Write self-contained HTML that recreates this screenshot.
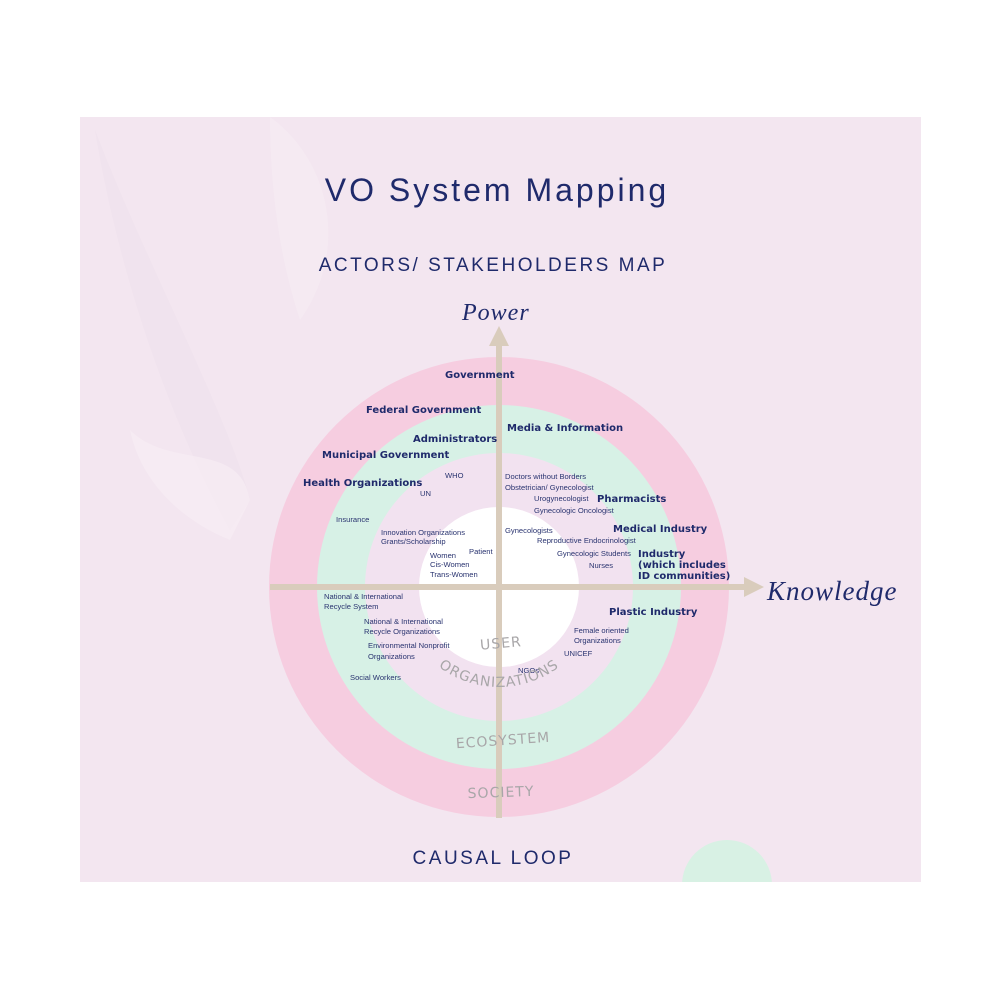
<!DOCTYPE html>
<html><head><meta charset="utf-8"><style>
html,body{margin:0;padding:0;background:#fff;}
svg{display:block}
.b{font-family:"DejaVu Sans","Liberation Sans",sans-serif;font-weight:bold;fill:#1f2a6b;font-size:10px}
.s{font-family:"Liberation Sans",sans-serif;fill:#2a3470;font-size:7.6px}
.r{font-family:"DejaVu Sans","Liberation Sans",sans-serif;fill:#a8a6a8;font-size:14px;letter-spacing:1px}
.t{font-family:"Liberation Sans",sans-serif;fill:#1f2a6b}
.h{font-family:"Liberation Serif",serif;font-style:italic;fill:#1f2a6b}
</style></head><body>
<svg width="1000" height="1000" viewBox="0 0 1000 1000" xmlns="http://www.w3.org/2000/svg">
<rect x="0" y="0" width="1000" height="1000" fill="#fff"/>
<rect x="80" y="117" width="841" height="765" fill="#f3e6f0"/>
<path d="M95 130 C140 250 230 420 250 500 L230 530 C170 420 120 280 95 130Z" fill="#eedfec" opacity="0.5"/>
<path d="M130 430 C170 470 240 440 250 500 L230 540 C180 520 140 480 130 430Z" fill="#f6edf4" opacity="0.7"/>
<path d="M270 117 C330 160 350 250 300 320 C280 260 270 190 270 117Z" fill="#f6edf4" opacity="0.6"/>
<circle cx="727" cy="885" r="45" fill="#d8f1e4"/>
<rect x="680" y="882" width="100" height="60" fill="#fff"/>
<text x="497" y="201" class="t" font-size="32" text-anchor="middle" letter-spacing="3">VO System Mapping</text>
<text x="493" y="271" class="t" font-size="19" text-anchor="middle" letter-spacing="2.5">ACTORS/ STAKEHOLDERS MAP</text>
<text x="493" y="864" class="t" font-size="19" text-anchor="middle" letter-spacing="2.5">CAUSAL LOOP</text>
<text x="462" y="320" class="h" font-size="24" font-weight="normal" letter-spacing="1">Power</text>
<text x="767" y="600" class="h" font-size="27" letter-spacing="1">Knowledge</text>
<circle cx="499" cy="587" r="230" fill="#f6cde0"/>
<circle cx="499" cy="587" r="182" fill="#d7f1e6"/>
<circle cx="499" cy="587" r="134" fill="#f2e2f0"/>
<circle cx="499" cy="587" r="80" fill="#fff"/>
<g fill="#d9ccbc" stroke="none">
<rect x="496" y="340" width="6" height="478"/>
<polygon points="499,326 489,346 509,346"/>
<rect x="270" y="584" width="480" height="6"/>
<polygon points="764,587 744,577 744,597"/>
</g>
<text x="445" y="378" class="b">Government</text>
<text x="366" y="413" class="b">Federal Government</text>
<text x="507" y="431" class="b">Media &amp; Information</text>
<text x="413" y="442" class="b">Administrators</text>
<text x="322" y="458" class="b">Municipal Government</text>
<text x="303" y="486" class="b">Health Organizations</text>
<text x="597" y="502" class="b">Pharmacists</text>
<text x="613" y="532" class="b">Medical Industry</text>
<text x="638" y="557" class="b">Industry</text>
<text x="638" y="568" class="b">(which includes</text>
<text x="638" y="579" class="b">ID communities)</text>
<text x="609" y="615" class="b">Plastic Industry</text>
<text x="445" y="478" class="s">WHO</text>
<text x="420" y="496" class="s">UN</text>
<text x="336" y="522" class="s">Insurance</text>
<text x="381" y="535" class="s">Innovation Organizations</text>
<text x="381" y="544" class="s">Grants/Scholarship</text>
<text x="469" y="554" class="s">Patient</text>
<text x="430" y="558" class="s">Women</text>
<text x="430" y="567" class="s">Cis-Women</text>
<text x="430" y="577" class="s">Trans-Women</text>
<text x="505" y="479" class="s">Doctors without Borders</text>
<text x="505" y="490" class="s">Obstetrician/ Gynecologist</text>
<text x="534" y="501" class="s">Urogynecologist</text>
<text x="534" y="513" class="s">Gynecologic Oncologist</text>
<text x="505" y="533" class="s">Gynecologists</text>
<text x="537" y="543" class="s">Reproductive Endocrinologist</text>
<text x="557" y="556" class="s">Gynecologic Students</text>
<text x="589" y="568" class="s">Nurses</text>
<text x="324" y="599" class="s">National &amp; International</text>
<text x="324" y="609" class="s">Recycle System</text>
<text x="364" y="624" class="s">National &amp; International</text>
<text x="364" y="634" class="s">Recycle Organizations</text>
<text x="368" y="648" class="s">Environmental Nonprofit</text>
<text x="368" y="659" class="s">Organizations</text>
<text x="350" y="680" class="s">Social Workers</text>
<text x="574" y="633" class="s">Female oriented</text>
<text x="574" y="643" class="s">Organizations</text>
<text x="564" y="656" class="s">UNICEF</text>
<text x="518" y="673" class="s">NGOs</text>
<defs>
<path id="a2" d="M399 587 A100 100 0 0 0 599 587"/>
</defs>
<text x="480" y="648" class="r" transform="rotate(-5 500 643)">USER</text>
<text class="r"><textPath href="#a2" startOffset="50%" text-anchor="middle">ORGANIZATIONS</textPath></text>
<text x="503" y="745" class="r" text-anchor="middle" transform="rotate(-4 503 740)">ECOSYSTEM</text>
<text x="501" y="797" class="r" text-anchor="middle" transform="rotate(-2 501 792)">SOCIETY</text>
</svg>
</body></html>
